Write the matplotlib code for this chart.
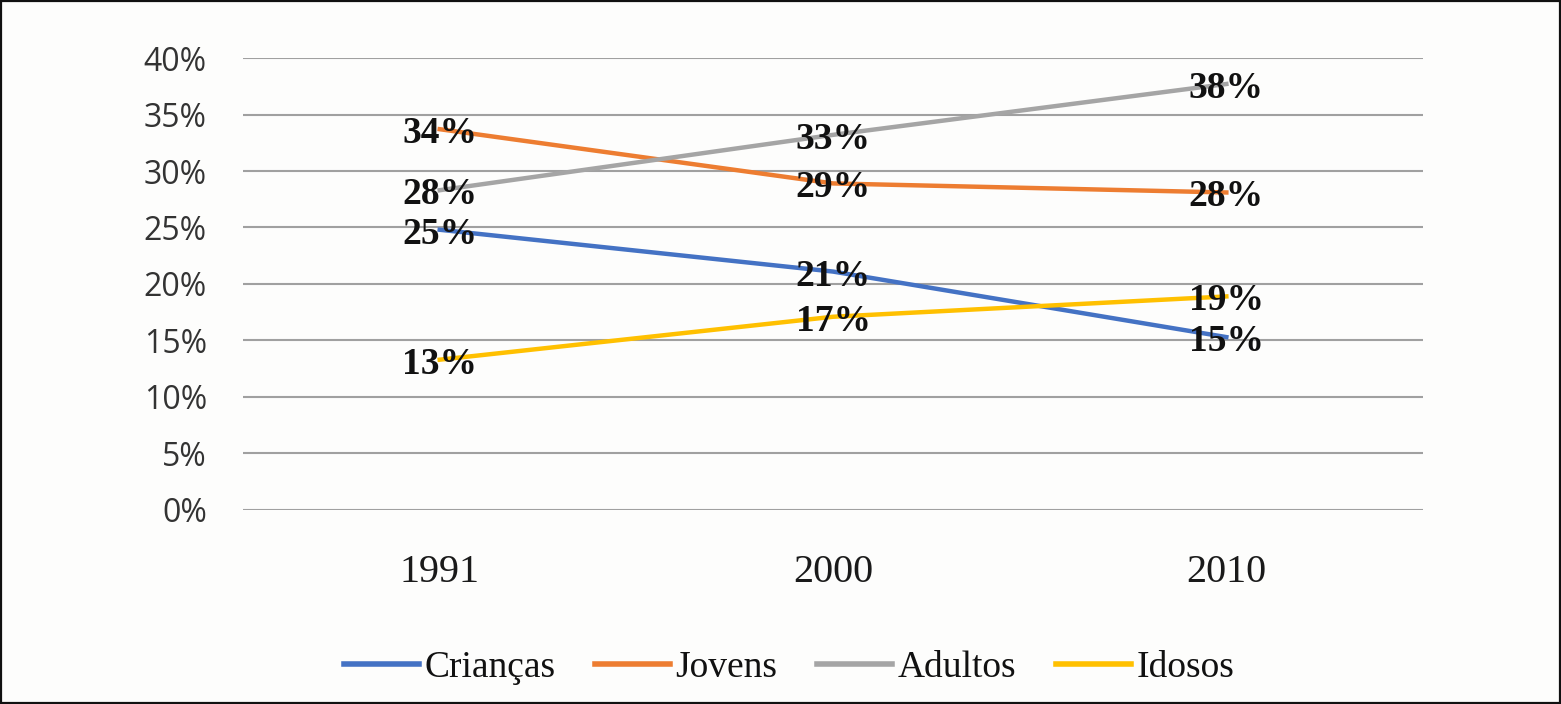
import matplotlib.pyplot as plt
from matplotlib.patches import Rectangle
from matplotlib.ticker import FuncFormatter

years = ['1991', '2000', '2010']
criancas = [24.8, 21.1, 15.3]
jovens = [33.7, 28.9, 28.1]
adultos = [28.3, 33.2, 37.7]
idosos = [13.3, 17.1, 18.9]
labels = {
    'Crianças': ['25%', '21%', '15%'],
    'Jovens': ['34%', '29%', '28%'],
    'Adultos': ['28%', '33%', '38%'],
    'Idosos': ['13%', '17%', '19%'],
}
series = [
    ('Crianças', criancas, '#4472C4'),
    ('Jovens', jovens, '#ED7D31'),
    ('Adultos', adultos, '#A5A5A5'),
    ('Idosos', idosos, '#FFC000'),
]

serif = ['Liberation Serif', 'DejaVu Serif']

fig = plt.figure(figsize=(15.61, 7.04), dpi=100)
fig.patch.set_facecolor('#FDFDFC')
ax = fig.add_axes([0.1557, 0.2756, 0.9116 - 0.1557, 0.9176 - 0.2756])
ax.set_facecolor('#FDFDFC')

x = list(range(len(years)))
for name, vals, color in series:
    ax.plot(x, vals, color=color, lw=3.2, label=name, zorder=3)
for name, vals, color in series:
    for xi, v, t in zip(x, vals, labels[name]):
        ax.text(xi, v - 0.4, t, ha='center', va='center', fontsize=27,
                fontweight='bold', family=serif, color='#111111', zorder=4)

ax.set_xlim(-0.5, 2.5)
ax.set_ylim(0, 40)
ax.set_yticks(range(0, 41, 5))
ax.yaxis.set_major_formatter(FuncFormatter(lambda v, p: f'{int(v)}%'))
ax.set_xticks(x)
ax.set_xticklabels(years, family=serif, fontsize=29, color='#1a1a1a')
for lab in ax.get_yticklabels():
    lab.set_family('Open Sans')
    lab.set_fontsize(23)
    lab.set_color('#333333')
ax.tick_params(axis='y', length=0, pad=26)
ax.tick_params(axis='x', length=0, pad=32)
ax.grid(axis='y', color='#A0A0A0', lw=1.5, zorder=1)
for s in ax.spines.values():
    s.set_visible(False)

leg = fig.legend(loc='center', bbox_to_anchor=(789 / 1561, 1 - 668 / 704), ncol=4,
                 frameon=False, prop={'family': serif, 'size': 27},
                 handlelength=2.0, handletextpad=0.15, columnspacing=1.05)
for line in leg.get_lines():
    line.set_linewidth(4)
for t in leg.get_texts():
    t.set_color('#111111')

fig.patches.append(Rectangle((1 / 1561, 1 / 704), 1559 / 1561, 702 / 704,
                             transform=fig.transFigure, fill=False,
                             edgecolor='#111111', lw=1.6))

fig.savefig('out.png', dpi=100, facecolor=fig.get_facecolor())
